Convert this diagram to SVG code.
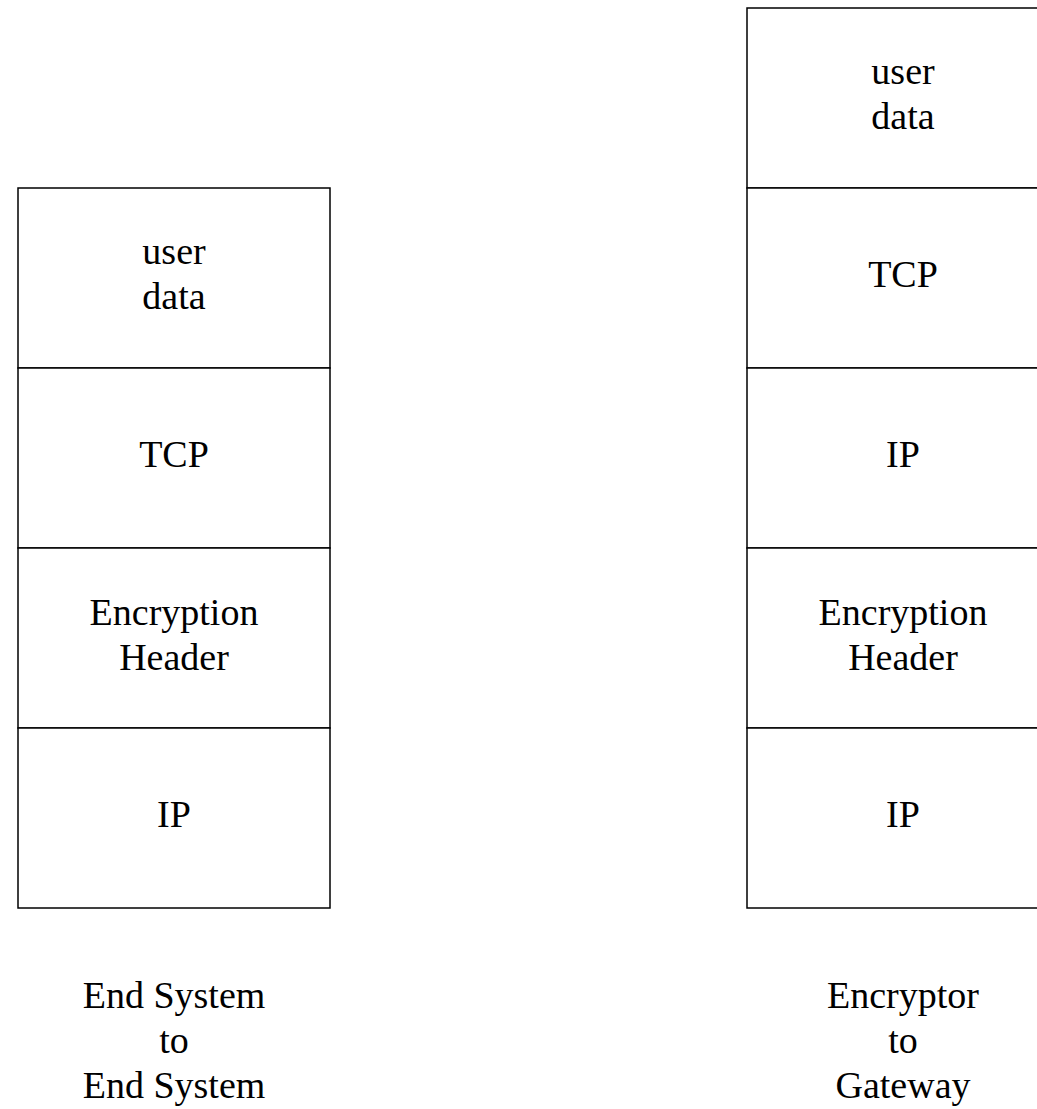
<svg xmlns="http://www.w3.org/2000/svg" width="1037" height="1109" viewBox="0 0 1037 1109">
<style>
.cell{fill:#fff;stroke:#000;stroke-width:1.5}
.t{font-family:"Liberation Serif","Times New Roman",serif;font-size:38px;text-anchor:middle;fill:#000}
</style>
<rect width="1037" height="1109" fill="#fff"/>
<g id="left-stack">
<g id="l-userdata"><rect class="cell" x="18" y="188" width="312" height="180"/><text class="t" x="174" y="264">user</text><text class="t" x="174" y="309">data</text></g>
<g id="l-tcp"><rect class="cell" x="18" y="368" width="312" height="180"/><text class="t" x="174" y="467">TCP</text></g>
<g id="l-enc"><rect class="cell" x="18" y="548" width="312" height="180"/><text class="t" x="174" y="625">Encryption</text><text class="t" x="174" y="670">Header</text></g>
<g id="l-ip"><rect class="cell" x="18" y="728" width="312" height="180"/><text class="t" x="174" y="827">IP</text></g>
</g>
<g id="right-stack">
<g id="r-userdata"><rect class="cell" x="747" y="8" width="312" height="180"/><text class="t" x="903" y="84">user</text><text class="t" x="903" y="129">data</text></g>
<g id="r-tcp"><rect class="cell" x="747" y="188" width="312" height="180"/><text class="t" x="903" y="287">TCP</text></g>
<g id="r-ip1"><rect class="cell" x="747" y="368" width="312" height="180"/><text class="t" x="903" y="467">IP</text></g>
<g id="r-enc"><rect class="cell" x="747" y="548" width="312" height="180"/><text class="t" x="903" y="625">Encryption</text><text class="t" x="903" y="670">Header</text></g>
<g id="r-ip2"><rect class="cell" x="747" y="728" width="312" height="180"/><text class="t" x="903" y="827">IP</text></g>
</g>
<g id="connectors"></g>
<g id="label-left"><text class="t" x="174" y="1008">End System</text><text class="t" x="174" y="1053">to</text><text class="t" x="174" y="1098">End System</text></g>
<g id="label-right"><text class="t" x="903" y="1008">Encryptor</text><text class="t" x="903" y="1053">to</text><text class="t" x="903" y="1098">Gateway</text></g>
</svg>
